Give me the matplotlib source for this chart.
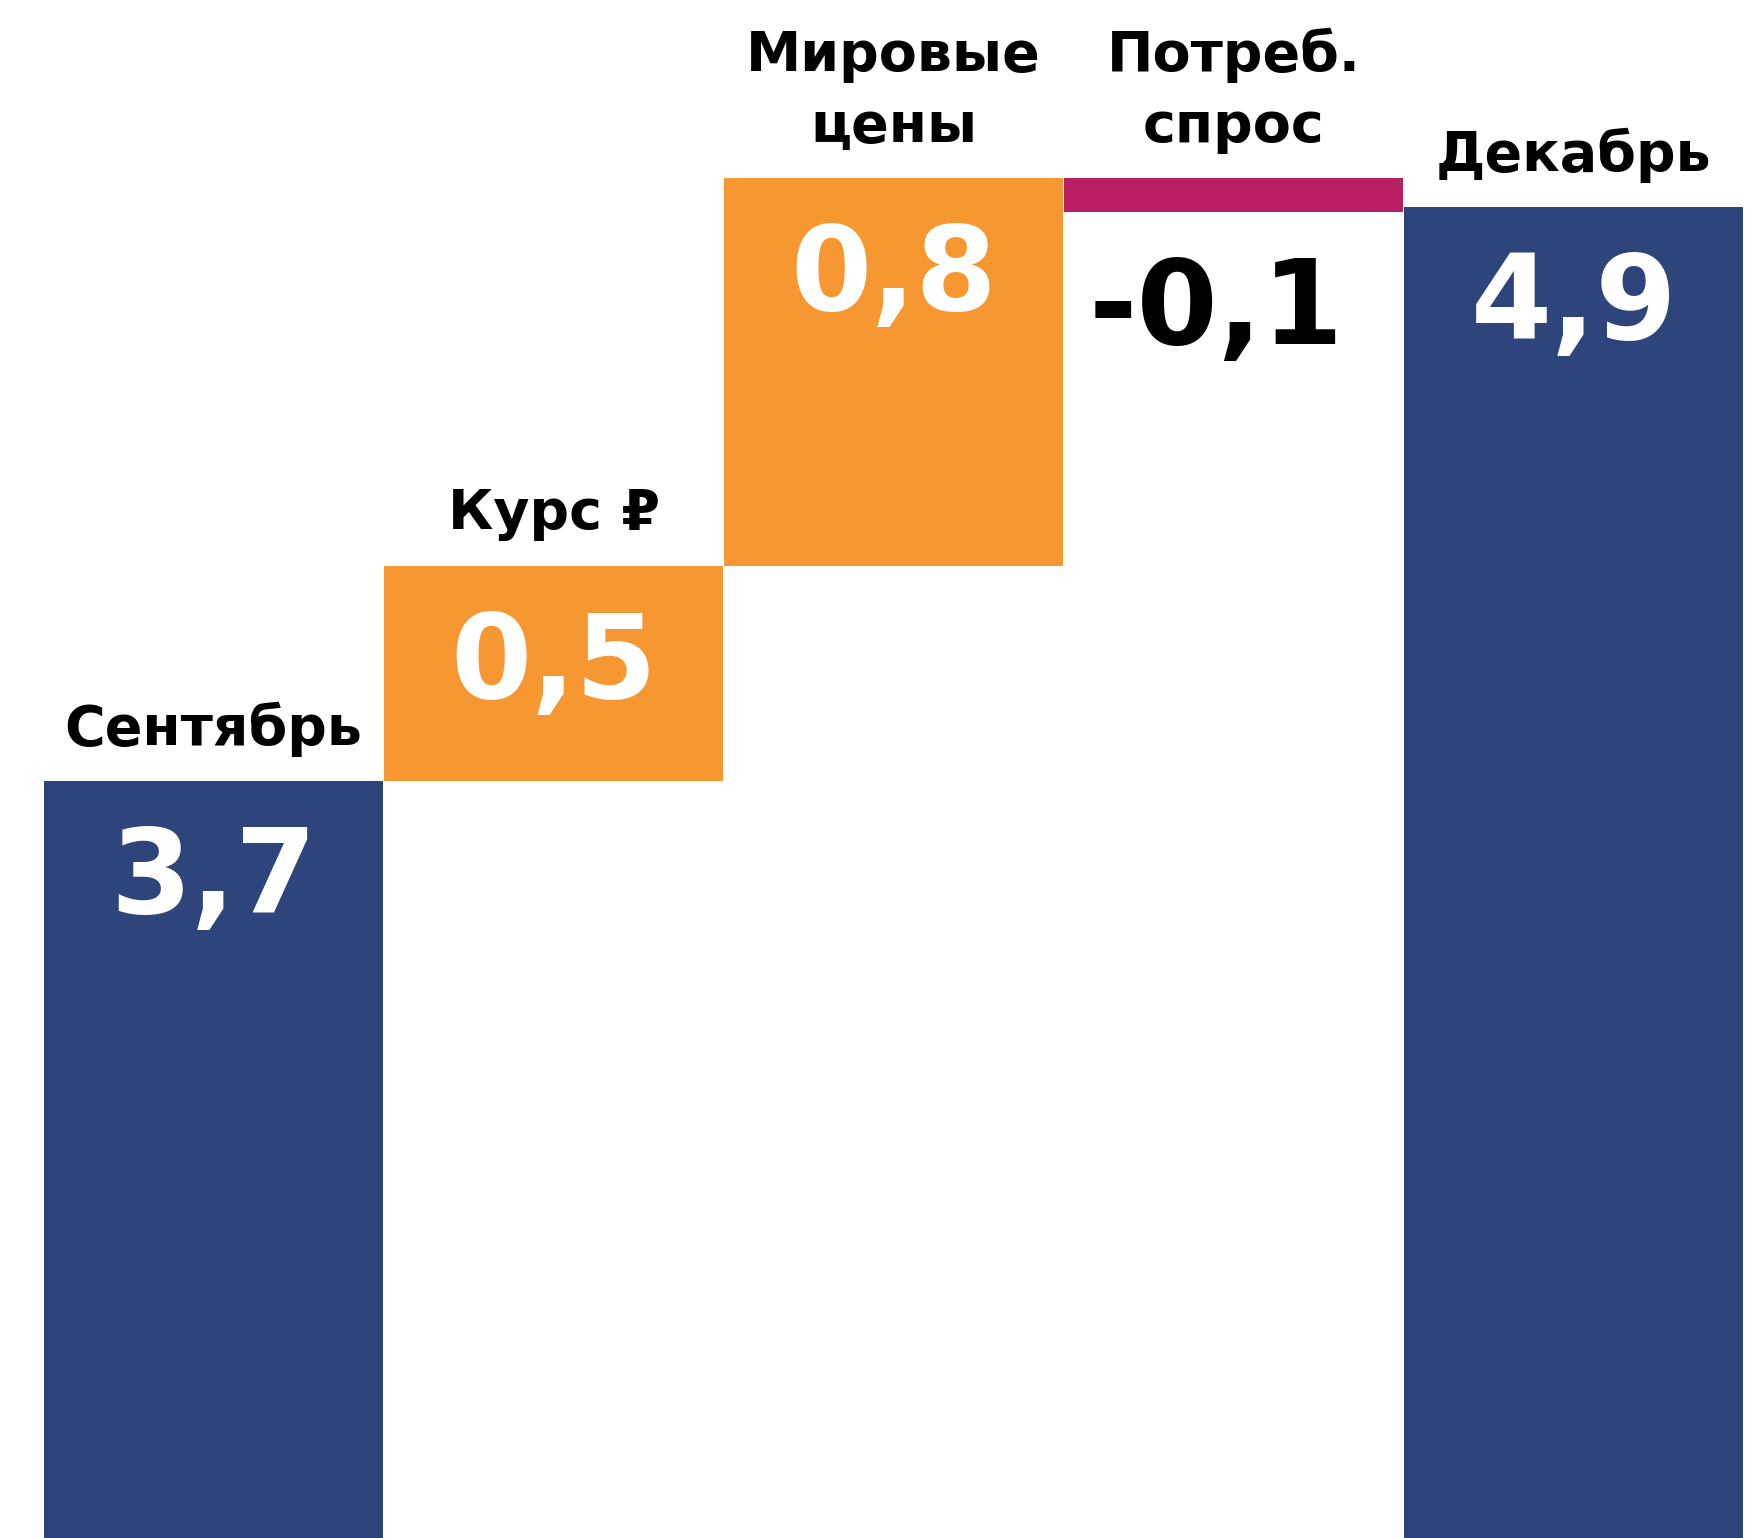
import matplotlib
matplotlib.use("Agg")
import matplotlib.pyplot as plt

# waterfall: inflation contributions, Sept -> Dec
categories = ["Сентябрь", "Курс ₽", "Мировые\nцены", "Потреб.\nспрос", "Декабрь"]
values = [3.70, 0.45, 0.81, -0.07, 4.90]   # bar heights
kinds = ["total", "delta", "delta", "delta", "total"]
value_labels = ["3,7", "0,5", "0,8", "-0,1", "4,9"]

NAVY = "#2E457B"
ORANGE = "#F69731"
MAGENTA = "#BB1F63"

plt.rcParams['font.family'] = ['DejaVu Sans', 'Noto Sans']

fig = plt.figure(figsize=(17.62, 15.38), dpi=100)
ax = fig.add_axes([0, 0, 1, 1])

running = 0.0
for i, (cat, v, kind, lab) in enumerate(zip(categories, values, kinds, value_labels)):
    if kind == "total":
        bottom, height, color = 0, v, NAVY
        running = v
        tcolor = "white"
    else:
        bottom, height = running, v
        color = ORANGE if v > 0 else MAGENTA
        running += v
        tcolor = "white" if v > 0 else "black"
    ax.bar(i, height, bottom=bottom, width=0.995, color=color, linewidth=0)
    top = max(bottom, bottom + height)
    low = min(bottom, bottom + height)

    # category name above the bar
    ax.annotate(cat, xy=(i, top), xytext=(0, 26), textcoords="offset points",
                ha="center", va="baseline", fontsize=40, fontweight="bold",
                color="black", linespacing=1.4)

    # value inside (or under, for the negative one)
    anchor = top if v > 0 else low
    ax.annotate(lab, xy=(i - (0.05 if v < 0 else 0), anchor), xytext=(0, -95),
                textcoords="offset points", ha="center", va="baseline",
                fontsize=84, fontweight="bold", color=tcolor)

ax.set_xlim(-0.628, 4.554)
ax.set_ylim(2.116, 5.333)
ax.axis("off")

fig.savefig("out.png", dpi=100, facecolor="white")
